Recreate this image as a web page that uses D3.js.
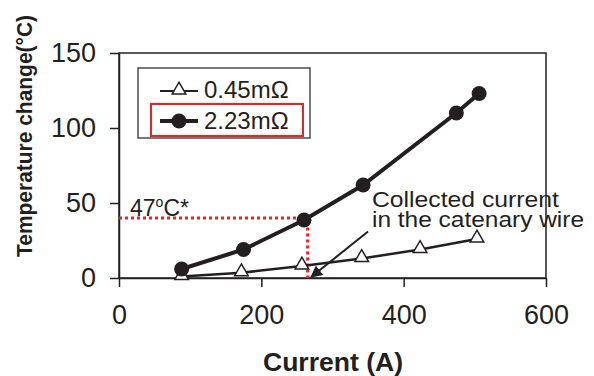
<!DOCTYPE html>
<html>
<head>
<meta charset="utf-8">
<script src="https://cdn.jsdelivr.net/npm/d3@7"></script>
<style>
  body { margin: 0; background: #fff; }
  text { font-family: "Liberation Sans", Arial, sans-serif; fill: #231f20; }
</style>
</head>
<body>
<div id="chart"></div>
<script>
// data
var currentLow = [88, 172, 257, 341, 423, 503];
var tempLow = [1, 3.5, 8, 13, 19, 26];
var currentHigh = [88, 175, 260, 343, 474, 506];
var tempHigh = [6, 19, 38.7, 62, 110, 123];
var xTicks = [0, 200, 400, 600];
var yTicks = [0, 50, 100, 150];
var seriesNames = ["0.45m\u03A9", "2.23m\u03A9"];
var markLine = { x: 265, y: 40 };
var arrowFrom = { x: 350, y: 31 };
var arrowTo = { x: 270, y: 0.7 };

var svgWidth = 594;
var svgHeight = 376;

var svg = d3.select("#chart")
  .append("svg")
  .attr("width", svgWidth)
  .attr("height", svgHeight);

var x = d3.scaleLinear().domain([0, 600]).range([119, 546]);
var y = d3.scaleLinear().domain([0, 150]).range([278, 53]);

// frame
svg.append("rect")
  .attr("x", x(0)).attr("y", y(150))
  .attr("width", x(600) - x(0)).attr("height", y(0) - y(150))
  .attr("fill", "none").attr("stroke", "#231f20").attr("stroke-width", 1.5);

// axes
var bottomAxis = d3.axisBottom(x).tickValues(xTicks).tickSize(9).tickSizeOuter(0).tickPadding(18);
var leftAxis = d3.axisLeft(y).tickValues(yTicks).tickSize(9).tickSizeOuter(0).tickPadding(14);

var xAxis = svg.append("g")
  .attr("transform", `translate(0, ${y(0)})`)
  .call(bottomAxis);
var yAxis = svg.append("g")
  .attr("transform", `translate(${x(0)}, 0)`)
  .call(leftAxis);

[xAxis, yAxis].forEach(function(a) {
  a.select(".domain").attr("stroke", "#231f20").attr("stroke-width", 1.5);
  a.selectAll(".tick line").attr("stroke", "#231f20").attr("stroke-width", 1.5);
  a.selectAll(".tick text")
    .style("font-family", "'Liberation Sans', Arial, sans-serif")
    .style("font-size", "27px")
    .attr("fill", "#231f20");
});

// axis titles
svg.append("text")
  .attr("x", 333).attr("y", 371)
  .attr("text-anchor", "middle")
  .attr("textLength", 140).attr("lengthAdjust", "spacingAndGlyphs")
  .style("font-size", "26px").style("font-weight", "bold")
  .text("Current (A)");

svg.append("text")
  .attr("transform", "translate(32, 136) rotate(-90)")
  .attr("text-anchor", "middle")
  .attr("textLength", 242).attr("lengthAdjust", "spacingAndGlyphs")
  .style("font-size", "22px").style("font-weight", "bold")
  .text("Temperature change(\u00B0C)");

// red dotted guide lines
svg.append("path")
  .attr("d", `M${x(0)},${y(markLine.y)} H${x(markLine.x)} V${y(0)}`)
  .attr("fill", "none")
  .attr("stroke", "#ec2227")
  .attr("stroke-width", 3)
  .attr("stroke-dasharray", "3,3");

var lbl = svg.append("text")
  .attr("x", 130).attr("y", 216)
  .style("font-size", "23px");
lbl.append("tspan").text("47");
lbl.append("tspan").attr("dy", -9).style("font-size", "14px").text("o");
lbl.append("tspan").attr("dy", 9).text("C*");

// lines
var line = d3.line()
  .x(d => x(d[0]))
  .y(d => y(d[1]));

var lowData = currentLow.map((c, i) => [c, tempLow[i]]);
var highData = currentHigh.map((c, i) => [c, tempHigh[i]]);

svg.append("path")
  .datum(lowData)
  .attr("d", line)
  .attr("fill", "none").attr("stroke", "#231f20").attr("stroke-width", 2.5);

svg.append("path")
  .datum(highData)
  .attr("d", line)
  .attr("fill", "none").attr("stroke", "#231f20").attr("stroke-width", 4);

var tri = d3.symbol().type(d3.symbolTriangle).size(80);

svg.selectAll(".tri")
  .data(lowData)
  .enter()
  .append("path")
  .attr("class", "tri")
  .attr("d", tri)
  .attr("transform", d => `translate(${x(d[0])}, ${y(d[1]) - 1})`)
  .attr("fill", "#fff").attr("stroke", "#231f20").attr("stroke-width", 1.5);

svg.selectAll(".dot")
  .data(highData)
  .enter()
  .append("circle")
  .attr("class", "dot")
  .attr("cx", d => x(d[0]))
  .attr("cy", d => y(d[1]))
  .attr("r", 7.5)
  .attr("fill", "#231f20");

// annotation arrow
svg.append("defs").append("marker")
  .attr("id", "head")
  .attr("viewBox", "0 0 10 10")
  .attr("refX", 9).attr("refY", 5)
  .attr("markerWidth", 6).attr("markerHeight", 6)
  .attr("markerUnits", "strokeWidth")
  .attr("orient", "auto")
  .append("path")
  .attr("d", "M0,0 L10,5 L0,10 z")
  .attr("fill", "#231f20");

svg.append("line")
  .attr("x1", x(arrowFrom.x)).attr("y1", y(arrowFrom.y))
  .attr("x2", x(arrowTo.x)).attr("y2", y(arrowTo.y))
  .attr("stroke", "#231f20").attr("stroke-width", 2)
  .attr("marker-end", "url(#head)");

var note = svg.append("g").style("font-size", "22px");
note.append("text")
  .attr("x", 372).attr("y", 207)
  .attr("textLength", 187).attr("lengthAdjust", "spacingAndGlyphs")
  .text("Collected current");
note.append("text")
  .attr("x", 372).attr("y", 226.5)
  .attr("textLength", 212).attr("lengthAdjust", "spacingAndGlyphs")
  .text("in the catenary wire");

// legend
var legend = svg.append("g");
legend.append("rect")
  .attr("x", 138).attr("y", 68).attr("width", 172).attr("height", 70)
  .attr("fill", "#fff").attr("stroke", "#231f20").attr("stroke-width", 1.2);
legend.append("rect")
  .attr("x", 151).attr("y", 104).attr("width", 152).attr("height", 32)
  .attr("fill", "none").attr("stroke", "#ec2227").attr("stroke-width", 2);

legend.append("line")
  .attr("x1", 160).attr("x2", 198).attr("y1", 91).attr("y2", 91)
  .attr("stroke", "#231f20").attr("stroke-width", 2);
legend.append("path")
  .attr("d", tri)
  .attr("transform", "translate(179, 90)")
  .attr("fill", "#fff").attr("stroke", "#231f20").attr("stroke-width", 1.5);
legend.append("text")
  .attr("x", 204).attr("y", 98)
  .style("font-size", "24px")
  .text(seriesNames[0]);

legend.append("line")
  .attr("x1", 160).attr("x2", 198).attr("y1", 121).attr("y2", 121)
  .attr("stroke", "#231f20").attr("stroke-width", 4);
legend.append("circle")
  .attr("cx", 179).attr("cy", 121).attr("r", 7.5)
  .attr("fill", "#231f20");
legend.append("text")
  .attr("x", 204).attr("y", 129)
  .style("font-size", "24px")
  .text(seriesNames[1]);
</script>
</body>
</html>
